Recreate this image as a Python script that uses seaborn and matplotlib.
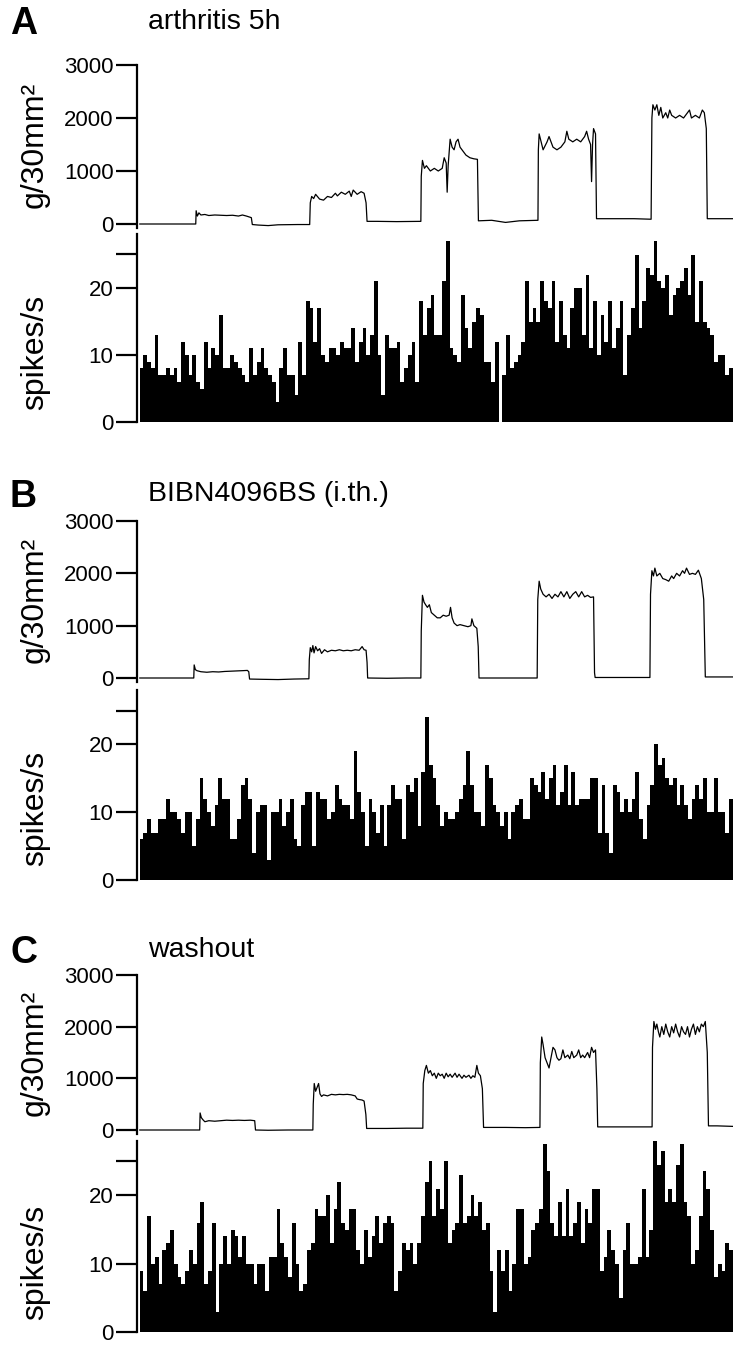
import numpy as np
import pandas as pd
import matplotlib
matplotlib.use("Agg")
import matplotlib.pyplot as plt
import seaborn as sns

W, H = 746, 1348
T_END = 300.0  # length of the recording (s)

# ---- spike rates (spikes/s), one value per bin, left to right ----
rates_a = [8, 10, 9, 8, 13, 7, 7, 8, 7, 8, 6, 12, 10, 7, 10, 6, 5, 12, 8, 11,
           10, 16, 8, 8, 10, 9, 8, 7, 6, 11, 7, 9, 11, 8, 7, 6, 3, 8, 11, 7,
           7, 4, 12, 7, 18, 17, 12, 17,
           10, 9, 11, 11, 10, 12, 11, 11, 14, 9, 12, 14, 10, 13, 21, 10, 4, 13, 11, 11,
           12, 6, 8, 10, 12, 6, 18, 13, 17, 19, 13, 13, 21, 27, 11, 10, 9, 19, 14, 11,
           15, 17, 16, 9, 9, 6, 12, 0, 7, 13, 8, 9, 10, 12, 21,
           15, 17, 15, 21, 18, 17, 21, 12, 18, 13, 11, 17, 20, 20, 13, 22, 11, 18, 10, 16,
           12, 18, 11, 14, 18, 7, 13, 17, 25, 14, 18, 23, 22, 27, 21, 20, 22, 16, 19, 20,
           21, 23, 19, 25, 15, 21, 15, 14, 13, 9, 10, 10, 7, 8]

rates_b = [6, 7, 9, 7, 7, 9, 9, 12, 10, 10, 9, 7, 10, 10, 5, 9, 15, 12, 10, 8,
           11, 15, 12, 12, 6, 6, 9, 14, 15, 12, 4, 10, 11, 11, 3, 10, 10, 12, 8, 10,
           12, 6, 5, 11, 13, 13, 5, 13, 12,
           12, 9, 10, 14, 12, 11, 11, 9, 19, 13, 10, 5, 12, 10, 7, 11, 5, 11, 14, 12,
           12, 6, 14, 13, 15, 8, 16, 24, 17, 15, 11, 8, 10, 9, 9, 10, 12, 14, 19, 14,
           10, 10, 8, 17, 15, 11, 10, 8, 10, 6, 10, 11, 12, 9, 9, 15,
           14, 13, 16, 12, 15, 17, 11, 13, 17, 11, 16, 11, 12, 12, 12, 15, 15, 7, 14, 7,
           4, 14, 13, 10, 12, 10, 12, 16, 9, 6, 11, 14, 20, 17, 18, 15, 14, 15, 11, 14,
           11, 9, 12, 14, 12, 15, 10, 10, 15, 10, 10, 7, 12]

rates_c = [9, 6, 17, 10, 11, 7, 12, 13, 15, 10, 8, 7, 9, 12, 10, 16, 19, 7, 9, 16,
           3, 10, 14, 10, 15, 14, 11, 14, 10, 10, 7, 10, 10, 6, 11, 11, 18, 13, 11, 8,
           16, 10, 6, 7, 12, 13, 18, 17,
           17, 20, 13, 18, 22, 16, 15, 18, 18, 12, 10, 15, 11, 14, 17, 13, 16, 17, 16, 6,
           9, 13, 12, 13, 10, 13, 17, 22, 25, 17, 21, 18, 25, 13, 15, 16, 23, 16, 17, 20,
           17, 19, 15, 16, 9, 3, 12, 9, 12, 6, 10, 18, 18, 10, 11,
           15, 16, 18, 27.5, 23.5, 16, 14, 19, 14, 21, 14, 16, 19, 13, 18, 16, 21, 21, 9, 11,
           15, 12, 10, 5, 12, 16, 10, 10, 11, 21, 11, 15, 28, 24.5, 26.5, 19, 21, 19, 24.5, 27.5,
           19, 17, 10, 12, 17, 23.5, 21, 15, 8, 10, 9, 13, 12]

# ---- force traces: (time s, g/30mm2) ----
force_a = [(0, 0), (28.4, 0),
           (28.6, 250), (29.2, 150), (30, 210), (31, 170), (33, 180), (35, 160), (38, 170),
           (41, 165), (44, 160), (47, 165), (50, 150), (52, 170), (54, 150), (56.5, 120),
           (57, -10), (60, -20), (65, -30), (70, -15), (80, -10), (86, -10),
           (86.3, 400), (87, 520), (88, 480), (89, 560), (91, 470), (93, 450), (95, 520),
           (97, 500), (99, 580), (100, 530), (102, 600), (104, 560), (106, 620), (107, 520),
           (108, 640), (110, 560), (112, 610), (113.5, 580), (114.5, 400),
           (115, 50), (120, 50), (130, 45), (142.2, 50),
           (142.4, 900), (143, 1200), (144, 1050), (145, 1100), (147, 1000), (149, 1050),
           (151, 1000), (153, 1050), (154, 1250), (155, 1150), (155.5, 600), (156, 1100),
           (157, 1600), (158, 1450), (159, 1400), (160, 1550), (161, 1600), (162, 1450),
           (163, 1400), (165, 1300), (167, 1250), (169, 1230), (170.8, 1220),
           (171.3, 60), (178, 70), (185, 30), (192, 60), (201.4, 70),
           (201.6, 1400), (202, 1700), (203, 1550), (204, 1400), (206, 1550), (207, 1650),
           (209, 1450), (211, 1400), (213, 1450), (215, 1550), (216, 1750), (217, 1600),
           (219, 1550), (221, 1600), (223, 1550), (225, 1650), (226, 1750), (227, 1600),
           (228, 1500), (228.5, 800), (229, 1500), (229.5, 1800), (230.5, 1700),
           (231, 100), (240, 100), (250, 100), (258.6, 90),
           (259, 2000), (259.5, 2250), (260.5, 2150), (261.5, 2250), (262.5, 2050),
           (263.5, 2200), (264.5, 2000), (266, 2100), (267, 2000), (268, 2150), (269, 2050),
           (271, 2000), (273, 2050), (275, 2000), (277, 2100), (278, 2150), (279, 2000),
           (281, 2050), (283, 2000), (284.5, 2150), (285.5, 2100), (286.5, 1800),
           (287, 100), (300, 100)]

force_b = [(0, 0), (27.4, 0),
           (27.6, 250), (28.2, 160), (29, 140), (31, 120), (34, 110), (37, 120), (40, 115),
           (43, 125), (46, 130), (49, 135), (52, 140), (54.5, 145), (55.2, 120),
           (55.6, -20), (62, -25), (70, -30), (78, -20), (85.6, -15),
           (85.8, 350), (86.3, 580), (87, 500), (87.6, 620), (88.2, 480), (89, 600),
           (90, 520), (91, 560), (92, 470), (93.5, 540), (95, 500), (97, 530), (99, 520),
           (101, 540), (103, 520), (105, 530), (107, 520), (109, 540), (111, 530),
           (112.5, 600), (113.5, 540), (114.5, 530), (115, 300),
           (115.3, 0), (125, -5), (135, 0), (142.2, 0),
           (142.4, 900), (143, 1580), (143.8, 1450), (144.6, 1400), (145.5, 1350),
           (146.5, 1400), (147.5, 1250), (149, 1200), (150.5, 1150), (152, 1150),
           (153.5, 1200), (155, 1180), (156.5, 1200), (157.2, 1350), (158, 1150),
           (159, 1050), (160.5, 1000), (162, 1020), (164, 1000), (166, 980), (167.5, 1000),
           (168, 1130), (169, 1000), (170.5, 950), (171.2, 600),
           (171.6, 0), (185, 0), (201, 0),
           (201.3, 1500), (202, 1850), (202.8, 1700), (204, 1600), (205.5, 1550), (207, 1600),
           (208.5, 1520), (210, 1600), (211.5, 1550), (213, 1650), (214.5, 1550), (216, 1650),
           (217.5, 1520), (219, 1600), (220.5, 1650), (222, 1550), (223.5, 1650),
           (225, 1550), (226.5, 1580), (228, 1540), (229.5, 1550), (230, 100),
           (230.3, 10), (240, 10), (250, 10), (258, 10),
           (258.3, 1600), (259, 2050), (259.8, 1950), (260.5, 2100), (261.5, 1950),
           (263, 2000), (264.5, 1900), (266, 1880), (267.5, 1850), (269, 1950), (270, 1900),
           (271.5, 2000), (273, 1950), (274.5, 2050), (275.5, 2000), (276.5, 2100),
           (278, 1980), (279.5, 2000), (281, 1980), (282.5, 2060), (284, 1900),
           (285.2, 1500), (286, 20), (290, 20), (300, 20)]

force_c = [(0, 0), (30.4, 0),
           (30.6, 330), (31.2, 240), (32, 200), (33, 160), (35, 180), (38, 170), (41, 180),
           (44, 190), (47, 185), (50, 190), (53, 185), (56, 190), (58.2, 180),
           (58.6, 0), (65, -5), (75, 0), (87.6, 0),
           (87.8, 500), (88.3, 900), (89, 750), (89.8, 830), (90.5, 900), (91.2, 700),
           (92, 650), (93, 680), (95, 660), (97, 690), (99, 680), (101, 690), (103, 685),
           (105, 690), (107, 680), (109, 660), (110, 600), (111, 590), (112.5, 580),
           (113.5, 560), (114.4, 300),
           (114.8, 30), (125, 30), (135, 35), (143.2, 35),
           (143.4, 900), (144.2, 1150), (145, 1250), (146, 1100), (147, 1150), (148, 1050),
           (149, 1100), (150, 1000), (151, 1100), (152, 1050), (153, 1080), (154, 1000),
           (155, 1100), (156, 1030), (157, 1080), (158, 1020), (159.5, 1100), (160.5, 1020),
           (161.5, 1080), (163, 1000), (164, 1060), (165, 1020), (166.5, 1060), (167.5, 1000),
           (168.5, 1050), (169.5, 1020), (170.5, 1250), (171.3, 1100), (172.3, 1050),
           (173.3, 800),
           (173.9, 50), (185, 50), (195, 45), (202.4, 50),
           (202.6, 1300), (203.3, 1800), (204, 1650), (205, 1400), (206, 1300), (207, 1200),
           (208, 1400), (209, 1600), (210, 1550), (211, 1400), (212, 1350), (213, 1380),
           (214, 1550), (215, 1400), (216.5, 1450), (217.5, 1380), (218.5, 1520),
           (219.5, 1400), (221, 1450), (222, 1550), (223, 1400), (224, 1450), (225, 1400),
           (226.5, 1500), (227.5, 1400), (228.5, 1600), (229.5, 1500), (230.5, 1550),
           (231.2, 800),
           (231.6, 60), (240, 60), (250, 60), (259.1, 60),
           (259.3, 1600), (260, 2100), (260.8, 1950), (261.5, 2050), (262.3, 1900),
           (263, 1800), (264, 2000), (265, 1850), (266, 2050), (267, 1900), (268, 1800),
           (269, 2000), (270, 1880), (271, 2050), (272, 1900), (273, 1800), (274, 2000),
           (275, 1900), (276, 1850), (277, 2000), (278, 1800), (279, 1950), (280, 2050),
           (281, 1850), (282, 2000), (283, 1900), (284, 2050), (285, 2000), (286, 2100),
           (287, 1500), (287.6, 80), (292, 80), (300, 70)]

letters = ["A", "B", "C"]
titles = ["arthritis 5h", "BIBN4096BS (i.th.)", "washout"]

sns.set_style("ticks")
plt.rcParams["font.family"] = ["Liberation Sans", "DejaVu Sans"]
plt.rcParams["text.color"] = "black"
plt.rcParams["axes.edgecolor"] = "black"
plt.rcParams["axes.labelcolor"] = "black"
plt.rcParams["ytick.color"] = "black"
plt.rcParams["xtick.color"] = "black"

fig = plt.figure(figsize=(W / 100, H / 100), dpi=100)

LEFT, RIGHT = 137, 733
XLIM = (-1.3, T_END)


def px_rect(top, bottom):
    return [LEFT / W, 1 - bottom / H, (RIGHT - LEFT) / W, (bottom - top) / H]


def style_axis(ax):
    for s in ["top", "right", "bottom"]:
        ax.spines[s].set_visible(False)
    ax.spines["left"].set_linewidth(1.6)
    ax.spines["left"].set_color("black")
    ax.set_xticks([])
    ax.set_xlim(*XLIM)
    ax.set_xlabel("")
    ax.set_ylabel("")
    ax.tick_params(axis="y", length=15, width=1.6, labelsize=16, pad=2,
                   direction="out", colors="black")


# pixel layout: (letter y, title y, force 3000 y, force 0 y, spike 0 y, spike px/unit,
#                force label y, spike label y)
layout = [
    (24, 22, 65, 224, 422, 6.7, 145, 352),
    (497, 494, 521, 678, 880, 6.78, 600, 808),
    (953, 950, 975, 1130, 1332, 6.83, 1053, 1262),
]

for letter, title, force, rates, lay in zip(letters, titles, [force_a, force_b, force_c],
                                            [rates_a, rates_b, rates_c], layout):
    ly, ty, f_top, f_zero, s_zero, s_ppu, fl_y, sl_y = lay

    # force trace
    fdf = pd.DataFrame(force, columns=["t", "force"])
    ppu = (f_zero - f_top) / 3000
    ax_f = fig.add_axes(px_rect(f_top, f_zero + 80 * ppu))
    sns.lineplot(data=fdf, x="t", y="force", color="black", linewidth=0.9, ax=ax_f)
    ax_f.set_ylim(-80, 3000)
    ax_f.set_yticks([0, 1000, 2000, 3000])
    style_axis(ax_f)

    # spike histogram
    n = len(rates)
    centers = (np.arange(n) + 0.5) * T_END / n
    sdf = pd.DataFrame({"t": centers, "rate": rates})
    ax_s = fig.add_axes(px_rect(s_zero - 28 * s_ppu, s_zero))
    sns.histplot(data=sdf, x="t", weights="rate", bins=n, binrange=(0, T_END),
                 element="step", fill=True, color="black", alpha=1, linewidth=0, ax=ax_s)
    ax_s.set_ylim(0, 28)
    ax_s.set_yticks([0, 10, 20, 25])
    ax_s.set_yticklabels(["0", "10", "20", ""])
    style_axis(ax_s)

    fig.text(10 / W, 1 - ly / H, letter, fontsize=27, fontweight="bold", ha="left", va="center")
    fig.text(148 / W, 1 - ty / H, title, fontsize=20.5, ha="left", va="center")
    fig.text(35 / W, 1 - fl_y / H, "g/30mm\u00b2", rotation=90, fontsize=23, ha="center", va="center")
    fig.text(35 / W, 1 - sl_y / H, "spikes/s", rotation=90, fontsize=23, ha="center", va="center")

fig.savefig("out.png", dpi=100)
